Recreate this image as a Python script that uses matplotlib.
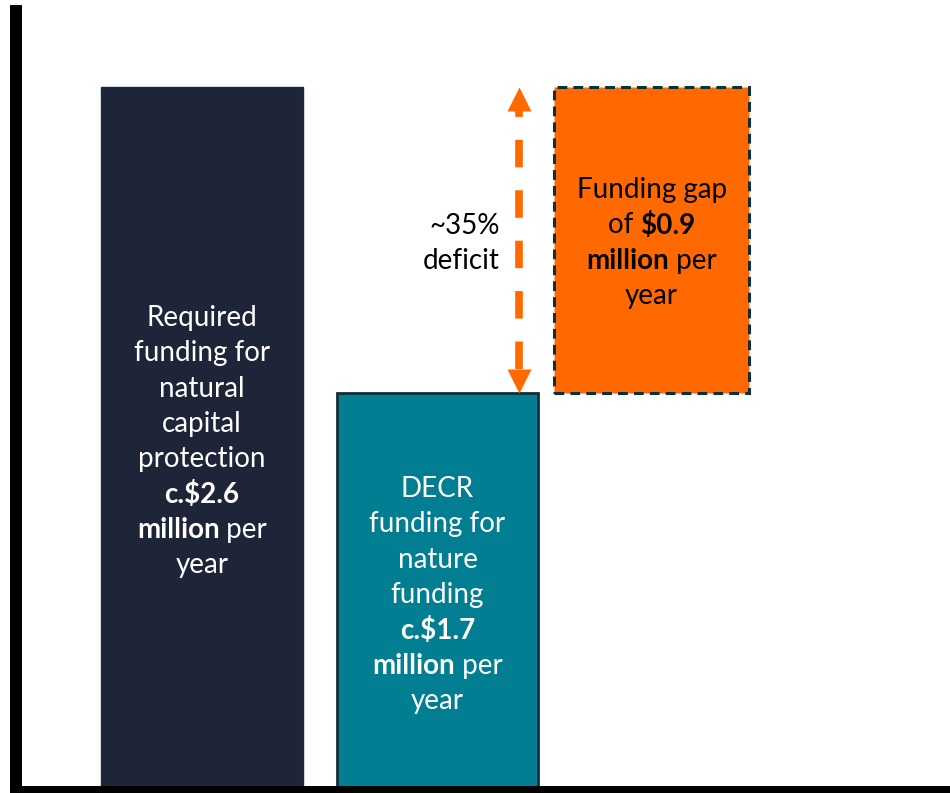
import matplotlib
matplotlib.use("Agg")
import matplotlib.pyplot as plt

plt.rcParams['font.family'] = ['Lato', 'DejaVu Sans']

# bar heights as drawn in the picture (schematic, not to scale)
required_height = 2.6
decr_height = 1.47
gap_bottom = decr_height
gap_top = required_height

navy = '#1f2538'
teal = '#017e91'
orange = '#ff6900'
edge = '#0f2f3a'

required_lines = [
    [("Required", False)],
    [("funding for", False)],
    [("natural", False)],
    [("capital", False)],
    [("protection", False)],
    [("c.\\$2.6", True)],
    [("million", True), (" per", False)],
    [("year", False)],
]
decr_lines = [
    [("DECR", False)],
    [("funding for", False)],
    [("nature", False)],
    [("funding", False)],
    [("c.\\$1.7", True)],
    [("million", True), (" per", False)],
    [("year", False)],
]
gap_lines = [
    [("Funding gap", False)],
    [("of ", False), ("\\$0.9", True)],
    [("million", True), (" per", False)],
    [("year", False)],
]
deficit_lines = ["~35%", "deficit"]

fs = 20
px_per_unit = 271.15
line_step = 35.3 / px_per_unit

fig = plt.figure(figsize=(9.5, 7.93), dpi=100)
ax = fig.add_axes([16 / 950, 1 / 793, 1 - 16 / 950, 1 - 12 / 793])
ax.set_xlim(-0.79, 3.176)
ax.set_ylim(0, 781 / px_per_unit)

ax.bar(0, required_height, width=0.858, color=navy, edgecolor=edge, linewidth=1)
ax.bar(1, decr_height, width=0.855, color=teal, edgecolor=edge, linewidth=2)
ax.bar(1.909, gap_top - gap_bottom, bottom=gap_bottom, width=0.828, color=orange,
       edgecolor=edge, linewidth=2.2, linestyle=(0, (3.2, 2)))

# double-headed dashed arrow showing the deficit
ax_x = 1.346
head = 24 / px_per_unit
ax.plot([ax_x, ax_x], [gap_bottom + head, gap_top - head], color=orange, lw=5.5,
        dashes=(3.6, 3.0), solid_capstyle='butt', dash_capstyle='butt')
ax.plot(ax_x, gap_top - head / 2, marker='^', ms=17, color=orange, mec='none')
ax.plot(ax_x, gap_bottom + head / 2, marker='v', ms=17, color=orange, mec='none')

renderer = fig.canvas.get_renderer()


def rich_block(x, y_center, lines, color):
    n = len(lines)
    for i, segs in enumerate(lines):
        y = y_center + (n - 1) / 2 * line_step - i * line_step
        texts = []
        widths = []
        for s, b in segs:
            t = ax.text(0, 0, s, fontsize=fs, color=color, va='center', ha='left',
                        fontweight='bold' if b else 'normal')
            texts.append(t)
            widths.append(t.get_window_extent(renderer=renderer).width)
        x0, y0 = ax.transData.transform((x, y))
        cur = x0 - sum(widths) / 2
        for t, w in zip(texts, widths):
            t.set_position(ax.transData.inverted().transform((cur, y0)))
            cur += w


rich_block(0, (792 - 441.5) / px_per_unit, required_lines, 'white')
rich_block(1, (792 - 595) / px_per_unit, decr_lines, 'white')
rich_block(1.909, (792 - 243) / px_per_unit, gap_lines, 'black')

for i, s in enumerate(deficit_lines):
    ax.text(1.265, (792 - 226) / px_per_unit - i * line_step, s, fontsize=fs,
            ha='right', va='center', color='black')

for side in ['top', 'right']:
    ax.spines[side].set_visible(False)
ax.spines['left'].set_linewidth(8.6)
ax.spines['bottom'].set_linewidth(8.6)
ax.spines['left'].set_zorder(5)
ax.spines['bottom'].set_zorder(5)
ax.set_xticks([])
ax.set_yticks([])

fig.savefig('out.png', dpi=100)
